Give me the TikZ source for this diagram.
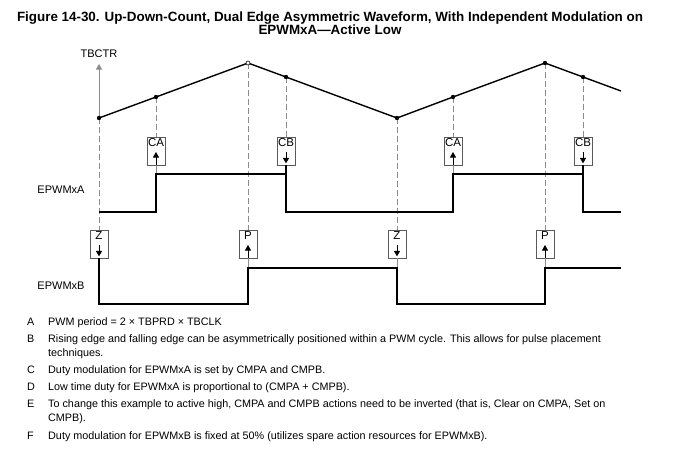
\documentclass[tikz,border=0pt]{standalone}
\usepackage{fontspec}
\setmainfont{Liberation Sans}
\usetikzlibrary{arrows.meta,positioning}
\definecolor{tiGray}{RGB}{140,140,140}
\definecolor{tiFrame}{RGB}{90,90,90}

\begin{document}
\begin{tikzpicture}[
  x=1pt, y=-1pt,
  >={Triangle[length=5.5pt,width=6pt]},
  wave/.style={line width=1.5pt, black},
  ramp/.style={line width=1.4pt, black},
  guide/.style={line width=0.9pt, tiGray, dash pattern=on 6pt off 3pt},
  tick/.style={line width=0.9pt, tiGray},
  evbox/.style={draw=tiFrame, line width=0.8pt, fill=white,
    minimum width=18pt, minimum height=28pt, inner sep=0pt},
  evtxt/.style={font=\fontsize{11.5}{11.5}\selectfont, inner sep=0pt, anchor=north},
  label/.style={font=\fontsize{11}{13}\selectfont},
  note/.style={font=\fontsize{10.8}{14}\selectfont, anchor=base west,
    align=left, inner sep=0pt},
]
  \useasboundingbox (0,0) rectangle (678,458);

  % Title
  \node[font=\fontsize{13.4}{13}\bfseries\selectfont, align=center] (title) at (330,23)
    {Figure 14-30. Up-Down-Count, Dual Edge Asymmetric Waveform, With Independent Modulation on\\
     EPWMxA---Active Low};

  % Counter corners
  \coordinate (z1)  at (99,118);
  \coordinate (ca1) at (156,97);
  \coordinate (p1)  at (248,63);
  \coordinate (cb1) at (286,77);
  \coordinate (z2)  at (397,118);
  \coordinate (ca2) at (453,97);
  \coordinate (p2)  at (545,63);
  \coordinate (cb2) at (583,77);
  \coordinate (rend) at (621,91);
  \coordinate (axtop) at (99,64);

  % Event boxes
  \node[evbox] (bca1) at (156,151) {};
  \node[evbox] (bcb1) at (286,151) {};
  \node[evbox] (bca2) at (453,151) {};
  \node[evbox] (bcb2) at (583,151) {};
  \node[evbox] (bz1)  at (99,244)  {};
  \node[evbox] (bp1)  at (248,244) {};
  \node[evbox] (bz2)  at (397,244) {};
  \node[evbox] (bp2)  at (545,244) {};

  % Guides from counter to boxes
  \draw[guide] (z1)  -- (bz1.north);
  \draw[guide] (ca1) -- (bca1.north);
  \draw[guide] (p1)  -- (bp1.north);
  \draw[guide] (cb1) -- (bcb1.north);
  \draw[guide] (z2)  -- (bz2.north);
  \draw[guide] (ca2) -- (bca2.north);
  \draw[guide] (p2)  -- (bp2.north);
  \draw[guide] (cb2) -- (bcb2.north);

  % Redraw boxes over the guides
  \foreach \b/\t in {bca1/CA,bcb1/CB,bca2/CA,bcb2/CB,bz1/Z,bp1/P,bz2/Z,bp2/P}{
    \node[evbox] at (\b) {};
    \node[evtxt] (t\b) at ([yshift=-2pt]\b.north) {\t};
  }
  % Set / clear arrows
  \foreach \b in {bca1,bca2,bp1,bp2}
    \draw[->, line width=1pt] (\b.south) -- ([yshift=-1pt]\b.center);
  \foreach \b in {bcb1,bcb2,bz1,bz2}
    \draw[->, line width=1pt] ([yshift=-1pt]\b.center) -- ([yshift=2pt]\b.south);

  % TBCTR axis
  \draw[tick, ->] (z1) -- (axtop);
  \node[label, above=3pt of axtop] (tbctr) {TBCTR};

  % Counter ramp
  \draw[ramp] (z1) -- (ca1) -- (p1) -- (cb1) -- (z2) -- (ca2) -- (p2) -- (cb2) -- (rend);
  \foreach \p in {z1,ca1,cb1,z2,ca2,p2,cb2}
    \fill (\p) circle (2.2pt);
  \draw[line width=0.6pt, fill=white] (p1) circle (2pt);

  % EPWMxA
  \draw[tick] (bca1.south) -- (156,174);
  \draw[tick] (bca2.south) -- (453,174);
  \draw[wave] (99,212) -- (156,212) -- (156,174) -- (286,174) -- (bcb1.south)
    (286,174) -- (286,212) -- (453,212) -- (453,174) -- (583,174) -- (bcb2.south)
    (583,174) -- (583,212) -- (621,212);
  \node[label] (lblA) at (61,190) {EPWMxA};

  % EPWMxB
  \draw[tick] (bp1.south) -- (248,268);
  \draw[tick] (bz2.south) -- (397,268);
  \draw[tick] (bp2.south) -- (545,268);
  \draw[wave] (bz1.south) -- (99,304) -- (248,304) -- (248,268) -- (397,268)
    -- (397,304) -- (545,304) -- (545,268) -- (621,268);
  \node[label] (lblB) at (61,286) {EPWMxB};

  % Notes
  \node[note] (kA) at (27,325) {A};
  \node[note] (nA) at (48,325) {PWM period = 2 × TBPRD × TBCLK};
  \node[note] (kB) at (27,342) {B};
  \node[note] (nB) at (48,356) {Rising edge and falling edge can be asymmetrically positioned within a PWM cycle. This allows for pulse placement\\techniques.};
  \node[note] (kC) at (27,373) {C};
  \node[note] (nC) at (48,373) {Duty modulation for EPWMxA is set by CMPA and CMPB.};
  \node[note] (kD) at (27,390) {D};
  \node[note] (nD) at (48,390) {Low time duty for EPWMxA is proportional to (CMPA + CMPB).};
  \node[note] (kE) at (27,407) {E};
  \node[note] (nE) at (48,421) {To change this example to active high, CMPA and CMPB actions need to be inverted (that is, Clear on CMPA, Set on\\CMPB).};
  \node[note] (kF) at (27,439) {F};
  \node[note] (nF) at (48,439) {Duty modulation for EPWMxB is fixed at 50\% (utilizes spare action resources for EPWMxB).};
\end{tikzpicture}
\end{document}
